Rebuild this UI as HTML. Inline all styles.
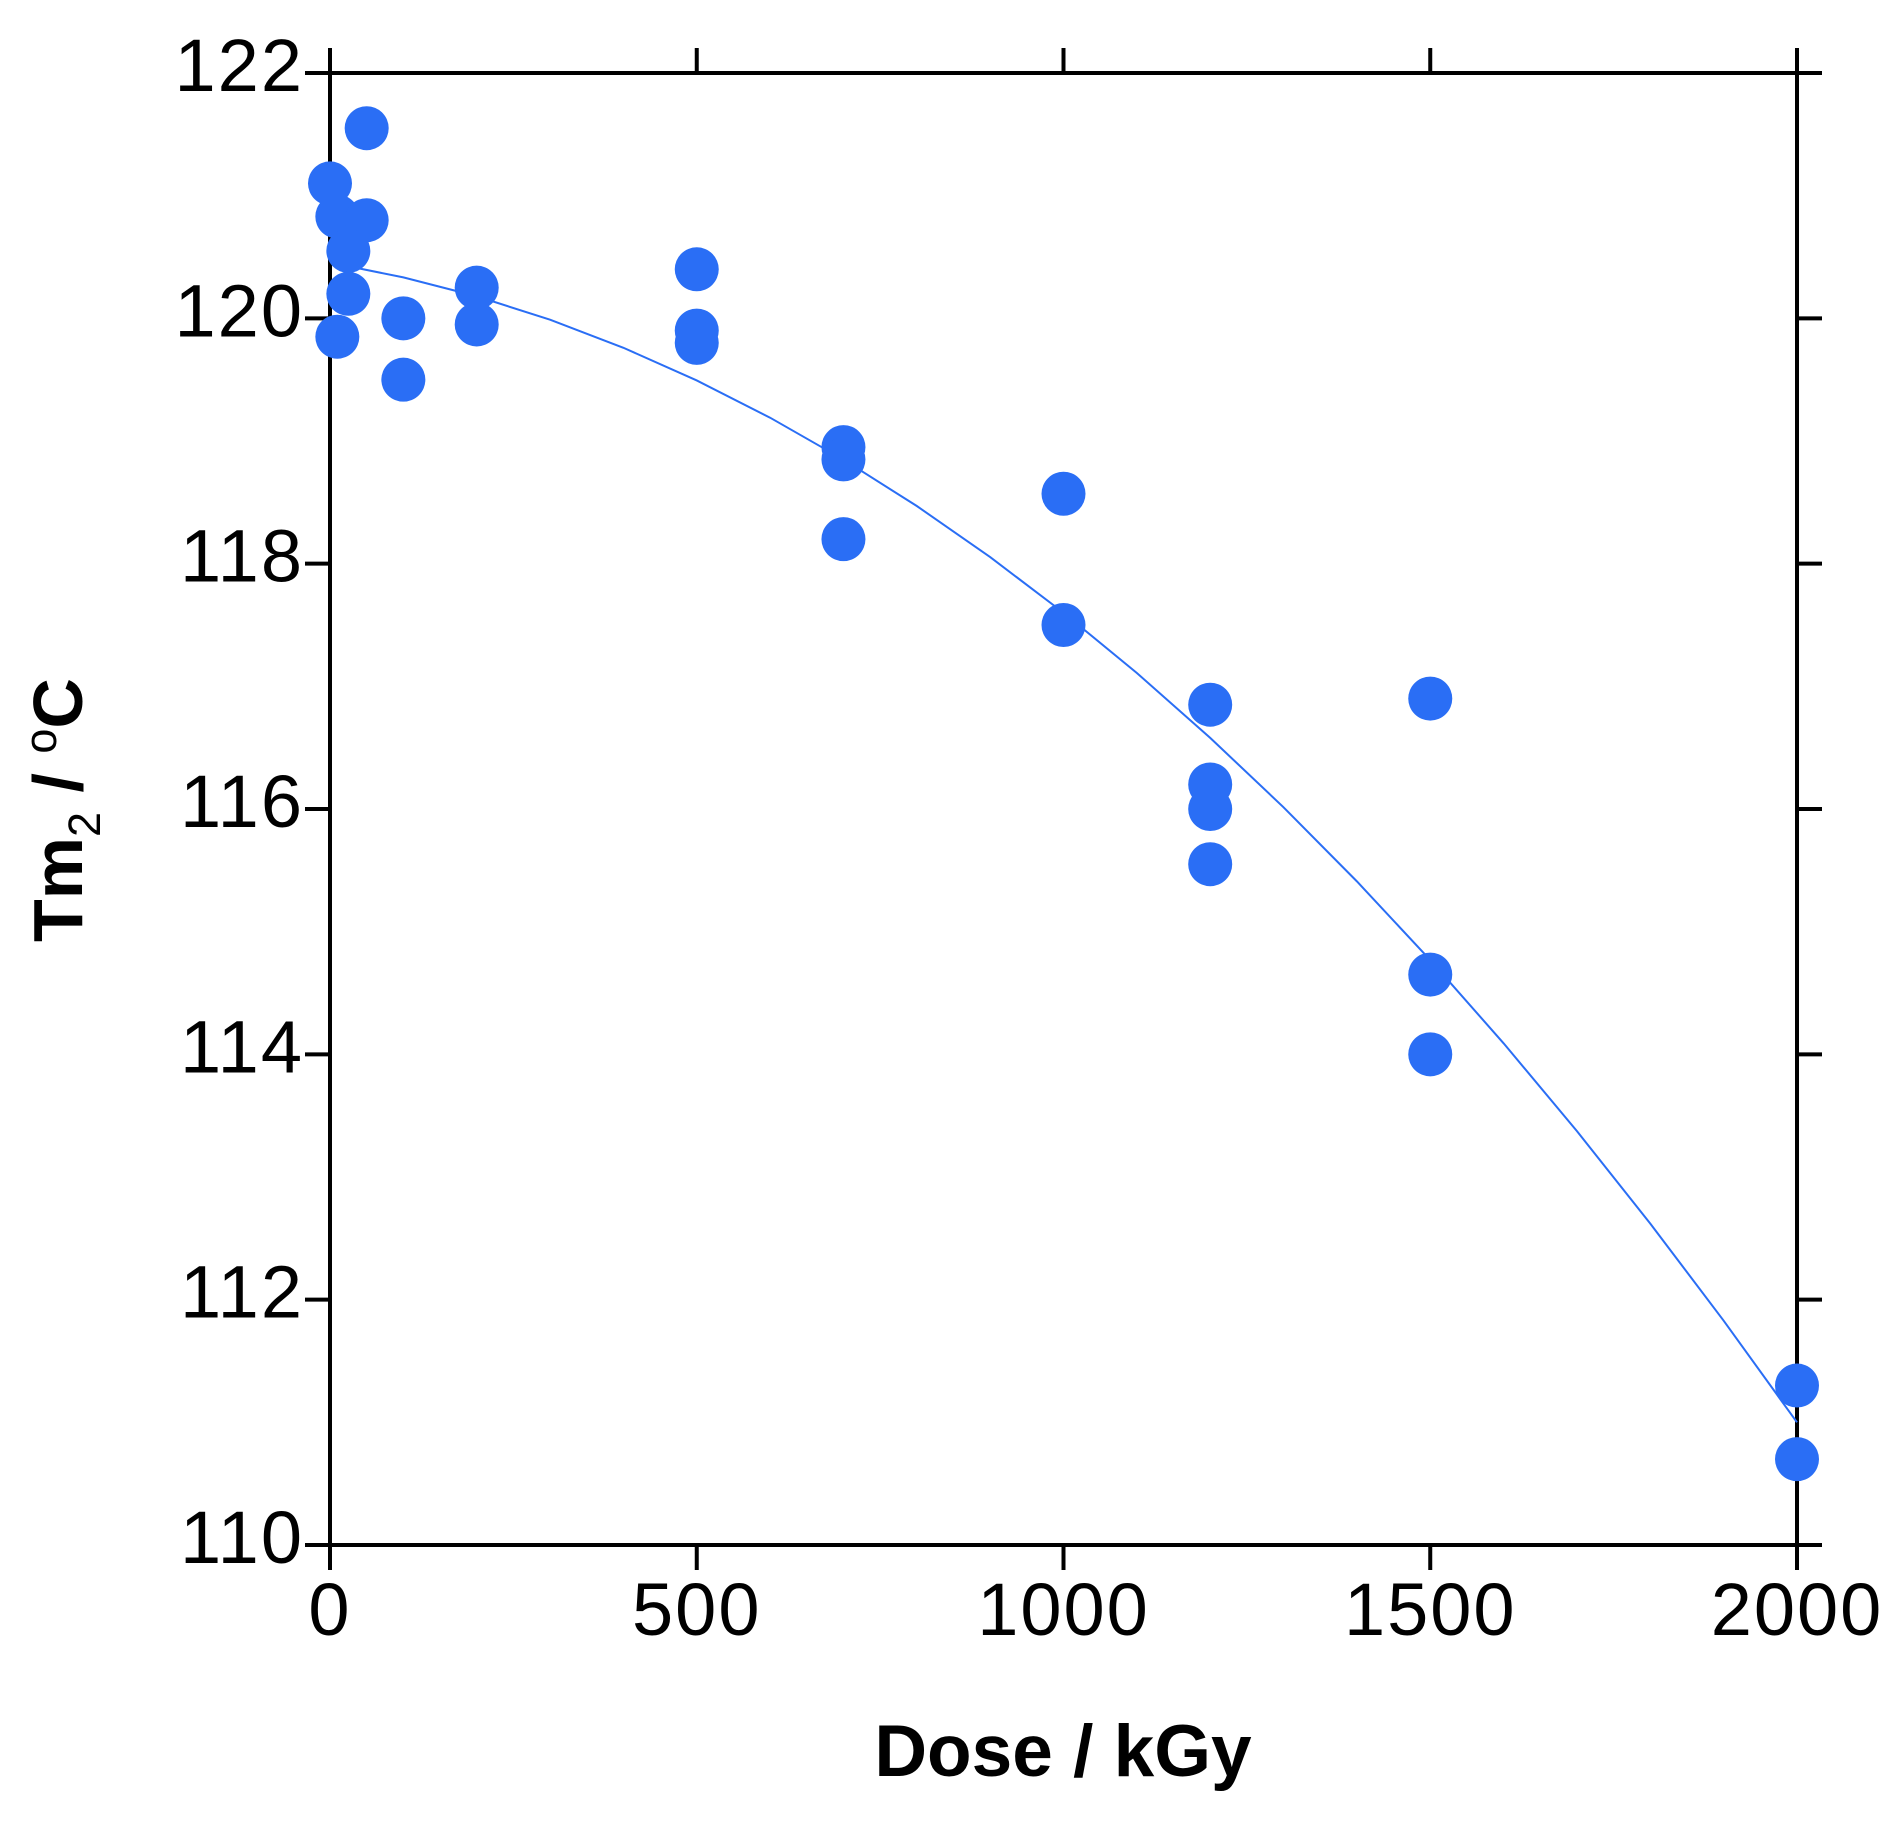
<!DOCTYPE html>
<html><head><meta charset="utf-8"><style>
html,body{margin:0;padding:0;background:#fff;}
svg{display:block;}
text{font-family:"Liberation Sans",Arial,sans-serif;fill:#000;}
</style></head><body>
<svg id="chart" width="1900" height="1825" viewBox="0 0 1900 1825" xmlns="http://www.w3.org/2000/svg">
<g id="axes"></g>
<g id="fit"></g>
<g id="points"></g>
<text x="1063" y="1776" font-size="73" font-weight="bold" text-anchor="middle">Dose / kGy</text>
<text transform="translate(82,810) rotate(-90)" font-size="70" font-weight="bold" text-anchor="middle">Tm<tspan font-size="45" font-weight="normal" dy="18">2</tspan><tspan dy="-18"> / </tspan><tspan font-size="45" font-weight="normal" dy="-26">o</tspan><tspan dy="26">C</tspan></text>
</svg>
<script>
const doses = [0,50,10,50,25,25,10,100,100,200,200,500,500,500,700,700,700,1000,1000,1200,1200,1200,1200,1500,1500,1500,2000,2000];
const tms = [121.1,121.55,120.83,120.8,120.55,120.2,119.85,120.0,119.5,120.25,119.95,120.4,119.9,119.8,118.95,118.85,118.2,118.57,117.5,116.85,116.2,116.0,115.55,116.9,114.65,114.0,111.3,110.7];
const fitX = [25,100,200,300,400,500,600,700,800,900,1000,1100,1200,1300,1400,1500,1600,1700,1800,1900,2000];
const fitCoef = [120.45,-0.000975,-0.000001875];
const xTicks = [0,500,1000,1500,2000];
const yTicks = [110,112,114,116,118,120,122];

const L=330,R=1797,T=73,B=1545;
const xMin=0,xMax=2000,yMin=110,yMax=122;
const sx=v=>L+(v-xMin)/(xMax-xMin)*(R-L);
const sy=v=>B-(v-yMin)/(yMax-yMin)*(B-T);
const NS='http://www.w3.org/2000/svg';
function mk(tag,attrs,parent){const e=document.createElementNS(NS,tag);for(const k in attrs)e.setAttribute(k,attrs[k]);parent.appendChild(e);return e;}
const axes=document.getElementById('axes');
const tl=25,sw=4;
let e;
e=mk('line',{x1:L-tl,y1:T,x2:R+tl,y2:T,stroke:'#000','stroke-width':sw},axes);


e=mk('line',{x1:L-tl,y1:B,x2:R+tl,y2:B,stroke:'#000','stroke-width':sw},axes);


e=mk('line',{x1:L,y1:T-tl,x2:L,y2:B+tl,stroke:'#000','stroke-width':sw},axes);


e=mk('line',{x1:R,y1:T-tl,x2:R,y2:B+tl,stroke:'#000','stroke-width':sw},axes);


xTicks.forEach(v=>{
  const x=sx(v);
  e=mk('line',{x1:x,y1:B,x2:x,y2:B+tl,stroke:'#000','stroke-width':sw},axes);
  
  
  e=mk('line',{x1:x,y1:T,x2:x,y2:T-tl,stroke:'#000','stroke-width':sw},axes);
  
  
  e=mk('text',{x:x,y:B+90,'font-size':74,'text-anchor':'middle','letter-spacing':2},axes);
  e.textContent=v;
  
  
});
yTicks.forEach(v=>{
  const y=sy(v);
  e=mk('line',{x1:L-tl,y1:y,x2:L,y2:y,stroke:'#000','stroke-width':sw},axes);
  
  
  e=mk('line',{x1:R,y1:y,x2:R+tl,y2:y,stroke:'#000','stroke-width':sw},axes);
  
  
  e=mk('text',{x:L-26,y:y+18,'font-size':74,'text-anchor':'end','letter-spacing':2},axes);
  e.textContent=v;
  
  
});
const fit=document.getElementById('fit');
const pts=fitX.map(x=>sx(x)+','+sy(fitCoef[0]+fitCoef[1]*x+fitCoef[2]*x*x)).join(' ');
e=mk('polyline',{points:pts,fill:'none',stroke:'#2a6ef5','stroke-width':2},fit);


const pg=document.getElementById('points');
doses.forEach((d,i)=>{
  e=mk('circle',{cx:sx(d),cy:sy(tms[i]),r:22,fill:'#2a6ef5'},pg);
  
  
});
</script>
</body></html>
